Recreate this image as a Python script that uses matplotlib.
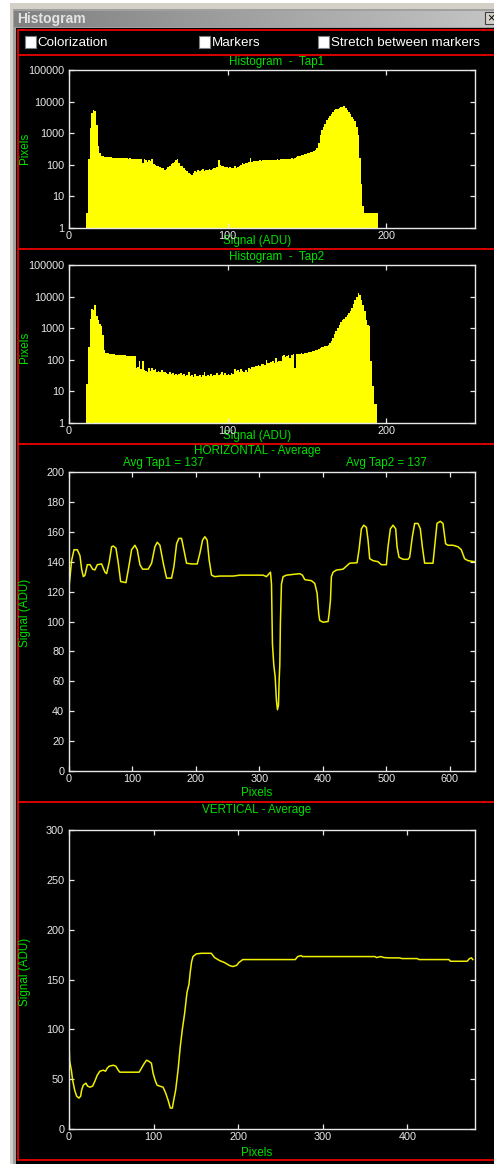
import numpy as np
import matplotlib
matplotlib.use("Agg")
import matplotlib.pyplot as plt
from matplotlib.patches import Rectangle
from matplotlib.colors import LinearSegmentedColormap
from matplotlib.ticker import NullLocator

# ---------------- data ----------------
tap1_first_adu = 11
tap1_counts = [
    3, 150, 1500, 4500, 5400, 5000, 1800, 400, 230, 190,
    185, 180, 178, 180, 175, 172, 170, 168, 168, 165,
    165, 163, 165, 162, 160, 160, 158, 160, 158, 158,
    157, 158, 156, 155, 155, 110, 150, 145, 120, 140,
    135, 150, 105, 100, 95, 90, 85, 80, 78, 70,
    75, 85, 95, 105, 115, 125, 140, 150, 110, 95,
    90, 80, 70, 62, 55, 52, 48, 55, 65, 60,
    70, 62, 68, 75, 65, 70, 68, 72, 70, 75,
    80, 78, 85, 140, 100, 95, 92, 85, 88, 80,
    85, 78, 82, 90, 80, 88, 95, 100, 110, 105,
    115, 118, 120, 165, 125, 130, 128, 135, 132, 138,
    135, 140, 138, 142, 140, 145, 138, 142, 145, 140,
    148, 145, 150, 148, 152, 150, 155, 150, 158, 160,
    155, 170, 180, 190, 195, 200, 210, 215, 220, 230,
    240, 250, 260, 280, 300, 350, 500, 850, 1300, 1600,
    2000, 2600, 3000, 3500, 4000, 4700, 5300, 5800, 6000, 6300,
    6600, 6800, 7000, 6500, 5500, 4800, 4000, 3300, 2800, 2400,
    1600, 900, 160, 25, 5, 3, 3, 3, 3, 3,
    3, 3, 3, 3,
]

tap2_first_adu = 11
tap2_counts = [
    17, 250, 2000, 4000, 3800, 5500, 2500, 1800, 1400, 1200,
    600, 200, 170, 160, 155, 150, 150, 148, 145, 145,
    142, 140, 140, 138, 138, 135, 135, 132, 132, 130,
    130, 55, 60, 90, 50, 95, 48, 45, 42, 55,
    45, 55, 48, 50, 40, 45, 42, 48, 40, 42,
    38, 36, 40, 35, 38, 34, 36, 33, 35, 38,
    32, 36, 30, 34, 42, 30, 33, 29, 35, 31,
    30, 34, 29, 32, 40, 30, 33, 30, 36, 31,
    34, 32, 38, 33, 35, 42, 34, 37, 33, 36,
    32, 38, 35, 50, 45, 48, 42, 52, 45, 40,
    48, 42, 55, 52, 60, 58, 65, 62, 70, 65,
    72, 75, 70, 100, 78, 82, 85, 90, 80, 110,
    85, 95, 90, 130, 140, 120, 135, 145, 110, 140,
    150, 55, 150, 155, 155, 160, 158, 162, 165, 170,
    175, 180, 185, 190, 200, 210, 220, 240, 250, 260,
    270, 280, 300, 330, 400, 500, 650, 800, 1000, 1300,
    1600, 1800, 2000, 2300, 2600, 3000, 3600, 4500, 5700, 8000,
    10000, 13000, 11000, 8000, 5500, 3500, 1800, 1300, 1200, 90,
    15, 4, 4, 1,
]

horiz_px = [
    0, 1.6, 4.2, 7.9, 13.1, 17.3, 19.9, 22.6, 25.2, 28.9, 33.1, 37.3, 40.9,
    44.6, 51.4, 56.7, 59.3, 63.5, 67.2, 69.8, 74.0, 77.7, 81.4, 89.8, 93.4,
    98.7, 103.9, 107.6, 111.8, 116.0, 124.9, 130.2, 135.4, 139.1, 143.3,
    148.6, 153.8, 161.7, 165.4, 169.6, 173.2, 177.4, 181.1, 185.3, 193.2,
    202.1, 206.3, 210.5, 214.2, 217.8, 221.0, 224.7, 229.9, 237.8, 258.8,
    269.3, 306.0, 311.3, 315.5, 317.6, 319.2, 320.2, 320.7, 322.8, 325.0,
    327.0, 328.6, 330.2, 331.2, 332.3, 333.3, 334.9, 337.5, 342.8, 353.3,
    363.8, 368.0, 371.7, 382.2, 387.4, 391.1, 393.7, 395.3, 400.5, 408.4,
    410.0, 412.1, 413.6, 416.3, 421.5, 432.0, 437.3, 442.5, 454.1, 457.2,
    460.9, 464.6, 468.8, 471.4, 474.0, 479.3, 487.1, 492.4, 500.3, 502.9,
    506.6, 510.8, 515.0, 517.1, 520.2, 526.5, 534.4, 537.0, 541.2, 544.9,
    550.1, 553.8, 557.0, 560.6, 573.8, 576.4, 580.1, 585.3, 589.5, 593.7,
    597.4, 605.2, 613.1, 618.4, 623.6, 628.9, 639.4,
]
horiz_signal = [
    123, 130, 141, 148, 148, 144, 135, 130, 131, 138, 138, 135, 134.5,
    138, 138.5, 133, 132, 140, 150, 150.5, 149, 139, 126.7, 126, 134.4,
    148, 151, 148, 138, 135, 135, 139, 150, 153, 151,
    139, 129, 129, 136.7, 152, 155.6, 155.6, 148, 139, 138.5,
    138.5, 145.6, 154.4, 156.7, 154.4, 141, 131, 130, 130.4, 130.4,
    131, 131, 130, 132, 133, 125, 100, 85, 71, 63,
    47, 41, 44, 60, 71, 100, 125, 130, 131, 131.5,
    132, 131, 128, 127.3, 125.5, 119, 105, 100.7, 99.5, 100,
    105, 114, 130, 133, 134.4, 135, 137, 139, 139.3, 148,
    162, 164.4, 163, 154.4, 142, 140.7, 140, 138, 138, 150,
    162, 164.4, 162, 150, 143, 141.6, 141.6, 143, 156.7, 165.6,
    165.6, 162, 150, 139, 139, 150, 165.6, 167, 165.6, 152,
    151, 151, 150, 148, 142, 140.7, 140,
]

vert_px = [
    0, 0.8, 2.8, 4.3, 6.7, 9.0, 11.8, 13.8, 14.9, 16.9, 20.0, 22.0, 24.8,
    27.9, 30.6, 33.4, 36.5, 40.5, 43.2, 45.2, 47.5, 52.3, 55.4, 58.2, 60.1,
    68.0, 82.9, 85.7, 88.4, 91.6, 94.3, 97.4, 99.4, 101.8, 104.1, 107.3,
    111.2, 114.3, 117.1, 119.8, 122.2, 123.8, 126.1, 128.9, 131.6, 134.0,
    136.7, 139.5, 141.8, 143.4, 145.0, 146.6, 150.5, 156.4, 168.2, 172.1,
    178.0, 183.9, 189.8, 193.7, 198.4, 200.8, 205.5, 267.6, 270.3, 274.3,
    276.2, 361.9, 363.5, 368.6, 372.5, 378.4, 390.2, 394.1, 411.8, 413.7,
    449.1, 451.1, 470.7, 473.5, 475.8, 477.4,
]
vert_signal = [
    86, 68, 59, 49, 39, 33, 31, 33, 39, 44, 46, 43, 42,
    43, 48, 54, 58, 59, 58, 61, 63, 64, 63, 59, 57,
    57, 57, 61, 65, 69, 68, 66, 56, 49, 44, 43,
    42, 36, 29, 21, 21, 29, 39, 59, 83, 100,
    116, 137, 145, 158, 168, 173, 175.7, 176.3, 176.3, 172,
    169, 167, 164, 163, 164.3, 167, 170, 170, 173, 174,
    173, 173, 172, 173, 172, 171.7, 171.7, 171, 171, 170,
    170, 168.3, 168.3, 171, 171.7, 170,
]

hist_xticks = [0, 100, 200]
hist_yticks = [1, 10, 100, 1000, 10000, 100000]
hist_yticklabels = ["1", "10", "100", "1000", "10000", "100000"]
horiz_xticks = [0, 100, 200, 300, 400, 500, 600]
horiz_yticks = [0, 20, 40, 60, 80, 100, 120, 140, 160, 180, 200]
vert_xticks = [0, 100, 200, 300, 400]
vert_yticks = [0, 50, 100, 150, 200, 250, 300]

checkbox_labels = ["Colorization", "Markers", "Stretch between markers"]
avg_labels = ["Avg Tap1 = 137", "Avg Tap2 = 137"]

# ---------------- style ----------------
W, H = 494, 1164
FONT = "Liberation Sans"
GREEN = "#00e000"
YELLOW = "#ffff00"
LINE_YELLOW = "#f0f000"
RED = "#ff0000"
plt.rcParams["font.family"] = [FONT, "DejaVu Sans"]

fig = plt.figure(figsize=(W / 100, H / 100), dpi=100)
fig.patch.set_facecolor("white")

bg = fig.add_axes([0, 0, 1, 1])
bg.set_axis_off()
bg.add_patch(Rectangle((10, 3), W - 10, H - 3, facecolor="#d4d0c8", edgecolor="none"))
bg.add_patch(Rectangle((13, 9), W - 13, H - 9, facecolor="#a0a0a0", edgecolor="none"))
cmap = LinearSegmentedColormap.from_list("tb", ["#808080", "#c4c4c4"])
bg.imshow(np.linspace(0, 1, 256)[None, :], extent=(14, W, 27, 11), cmap=cmap,
          aspect="auto", zorder=1)
bg.add_patch(Rectangle((16, 28), W - 16, H - 28, facecolor="black", edgecolor="none", zorder=1))
bg.text(17, 19.5, "Histogram", color="#e4e4e4", fontsize=10, fontweight="bold",
        ha="left", va="center", zorder=2)
bg.add_patch(Rectangle((485, 12), 12, 12, facecolor="#d4d0c8", edgecolor="#404040",
                       lw=0.8, zorder=2))
bg.text(490.5, 18.5, "×", color="black", fontsize=9, ha="center", va="center", zorder=3)

for yy in [30, 55, 248.5, 443.5, 801.5, 1160]:
    bg.plot([18, W], [yy, yy], color=RED, lw=1.2, zorder=3, solid_capstyle="butt")
bg.plot([18, 18], [30, 1160], color=RED, lw=1.2, zorder=3)

box_x = [25, 199, 318]
for bx, lab in zip(box_x, checkbox_labels):
    bg.add_patch(Rectangle((bx, 36), 11, 12, facecolor="white", edgecolor="#808080",
                           lw=0.8, zorder=3))
    bg.text(bx + 12.5, 42.5, lab, color="white", fontsize=9.6, ha="left", va="center", zorder=3)

# green labels
def gtext(x, y, s, rot=0):
    bg.text(x, y, s, color=GREEN, fontsize=8.4, ha="center", va="center",
            rotation=rot, zorder=4)

gtext(277, 62, "Histogram  -  Tap1")
gtext(257, 241, "Signal (ADU)")
gtext(25, 148, "Pixels", 90)
gtext(277, 257, "Histogram  -  Tap2")
gtext(257, 436, "Signal (ADU)")
gtext(25, 347, "Pixels", 90)
gtext(257, 451, "HORIZONTAL - Average")
gtext(163, 463, avg_labels[0])
gtext(386, 463, avg_labels[1])
gtext(257, 793, "Pixels")
gtext(25, 613, "Signal (ADU)", 90)
gtext(257, 810, "VERTICAL - Average")
gtext(257, 1153, "Pixels")
gtext(25, 972, "Signal (ADU)", 90)

bg.set_xlim(0, W)
bg.set_ylim(H, 0)


def make_ax(left, top, right, bottom):
    ax = fig.add_axes([left / W, 1 - bottom / H, (right - left) / W, (bottom - top) / H])
    ax.set_facecolor("black")
    for s in ax.spines.values():
        s.set_color("#e8e8e8")
        s.set_linewidth(1.0)
    ax.tick_params(direction="in", length=3.5, width=0.9, colors="#e8e8e8",
                   top=True, right=True, labelsize=7.8, pad=2)
    ax.tick_params(axis="y", pad=3.5)
    ax.set_zorder(5)
    return ax


def hist_panel(top, bottom, first, counts):
    ax = make_ax(69, top, 475, bottom)
    edges = np.arange(first, first + len(counts) + 1)
    ax.stairs(counts, edges, fill=True, color=YELLOW, baseline=0.05)
    ax.set_yscale("log")
    ax.set_ylim(1, 100000)
    ax.set_xlim(0, 256)
    ax.set_xticks(hist_xticks)
    ax.set_yticks(hist_yticks)
    ax.set_yticklabels(hist_yticklabels)
    ax.yaxis.set_minor_locator(NullLocator())
    return ax


hist_panel(70, 228, tap1_first_adu, tap1_counts)
hist_panel(265, 423, tap2_first_adu, tap2_counts)

axh = make_ax(69, 472, 475, 771)
axh.plot(horiz_px, horiz_signal, color=LINE_YELLOW, lw=1.1)
axh.set_xlim(0, 640)
axh.set_ylim(0, 200)
axh.set_xticks(horiz_xticks)
axh.set_yticks(horiz_yticks)

axv = make_ax(69, 830, 475, 1129)
axv.plot(vert_px, vert_signal, color=LINE_YELLOW, lw=1.1)
axv.set_xlim(0, 480)
axv.set_ylim(0, 300)
axv.set_xticks(vert_xticks)
axv.set_yticks(vert_yticks)

fig.savefig("out.png", dpi=100, facecolor=fig.get_facecolor())
